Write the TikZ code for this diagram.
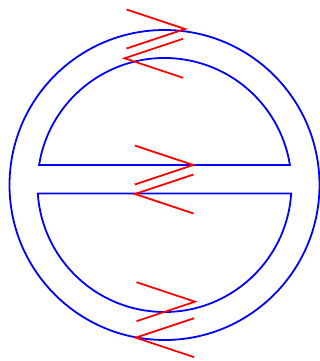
\documentclass[tikz,border=0pt]{standalone}
\usepackage{xcolor}
\usepackage{tikz}

\begin{document}
\begin{tikzpicture}[x=1bp, y=-1bp, line width=1.8pt]
        % Fix the frame to the size of the picture
        \useasboundingbox (0,0) rectangle (320,361);

        % Define centre and radii
        \def\ro{155}
        \def\ri{127}
        \def\w{58.5}
        \def\h{19.5}
        \coordinate (c) at (164.5,185);

        % Angles where the two chords meet the inner circle
        \pgfmathsetmacro\aup{asin(20/\ri)}
        \pgfmathsetmacro\alow{asin(8.5/\ri)}

        % Draw outer circle
        \draw[blue] (c) circle (\ro);

        % Upper half disc
        \draw[blue] (c) ++({180+\aup}:\ri)
            arc[start angle=180+\aup, end angle=360-\aup, radius=\ri] -- cycle;

        % Lower half disc
        \draw[blue] (c) ++({\alow}:\ri)
            arc[start angle=\alow, end angle=180-\alow, radius=\ri] -- cycle;

        % Tips of the red marks
        \coordinate (t1) at (185,29);    % on the outer circle
        \coordinate (t2) at (124.5,58.3);
        \coordinate (t3) at (193.3,165); % on the upper chord
        \coordinate (t4) at (135,194);   % on the lower chord
        \coordinate (t5) at (195,301.7);
        \coordinate (t6) at (135.7,337.7);

        % Marks pointing right
        \draw[red] (t1) ++(-\w,-\h) -- (t1) -- ++(-\w,\h);
        \draw[red] (t3) ++(-\w,-\h) -- (t3) -- ++(-\w,\h);
        \draw[red] (t5) ++(-\w,-\h) -- (t5) -- ++(-\w,\h);

        % Marks pointing left
        \draw[red] (t2) ++(\w,-\h) -- (t2) -- ++(\w,\h);
        \draw[red] (t4) ++(\w,-\h) -- (t4) -- ++(\w,\h);
        \draw[red] (t6) ++(\w,-\h) -- (t6) -- ++(\w,\h);
    \end{tikzpicture}
\end{document}
